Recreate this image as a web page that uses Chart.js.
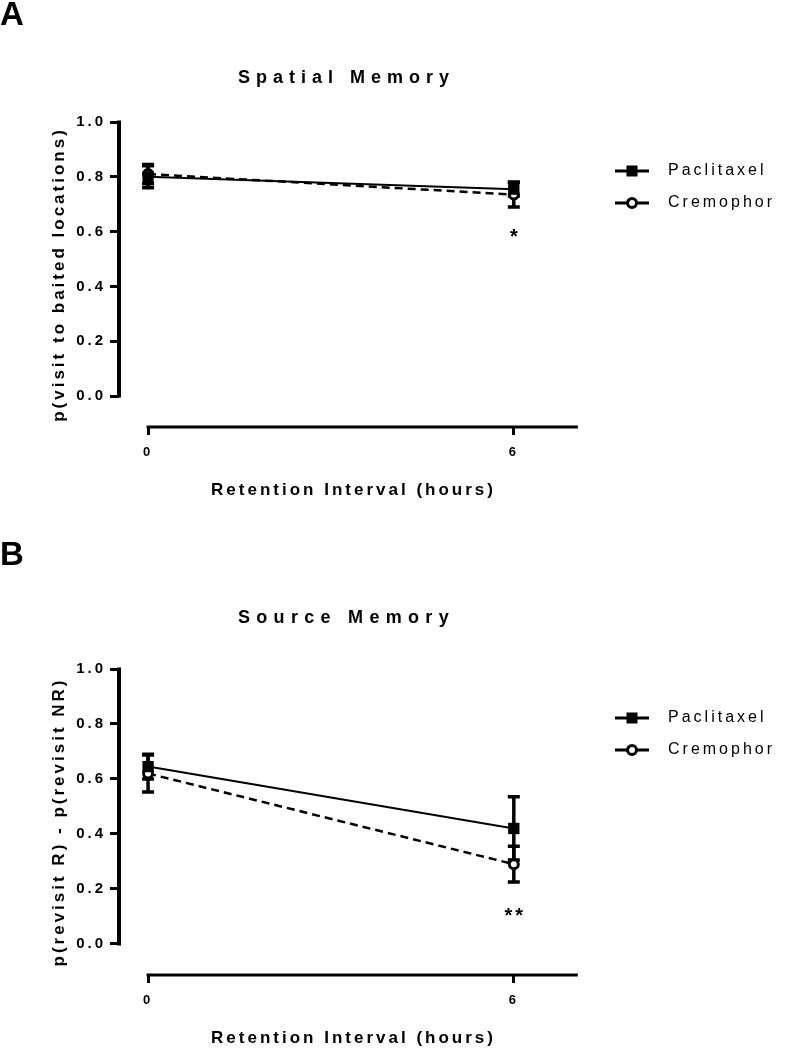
<!DOCTYPE html>
<html lang="en">
  <head>
    <meta charset="UTF-8" />
    <title>Spatial and Source Memory</title>
    <script src="https://cdn.jsdelivr.net/npm/chart.js"></script>
    <style>
      body {
        margin: 0;
        background: #fff;
        font-family: "Liberation Sans", Arial, sans-serif;
      }
      .page {
        position: relative;
        width: 788px;
        height: 1050px;
        overflow: hidden;
      }
      canvas {
        position: absolute;
        left: 0;
      }
      .panel-label {
        position: absolute;
        left: 0;
        font-size: 33px;
        font-weight: bold;
        line-height: 1;
        z-index: 2;
      }
      .panel-title {
        position: absolute;
        left: 238px;
        font-size: 18px;
        font-weight: bold;
        letter-spacing: 6px;
        line-height: 1;
        z-index: 2;
      }
    </style>
  </head>
  <body>
    <div class="page">
      <canvas id="spatialChart" width="788" height="503" style="top: 0"></canvas>
      <canvas id="sourceChart" width="788" height="510" style="top: 541px"></canvas>
      <div class="panel-label" style="top: -3px">A</div>
      <div class="panel-title" style="top: 68px">Spatial Memory</div>
      <div class="panel-label" style="top: 537px">B</div>
      <div class="panel-title" style="top: 608px; letter-spacing: 6.3px">Source Memory</div>
    </div>

    <script>
      // shared axes
      const hours = [0, 6];
      const xTicks = [0, 6];
      const yTicks = [0, 0.2, 0.4, 0.6, 0.8, 1.0];
      const seriesNames = ["Paclitaxel", "Cremophor"];

      // A: spatial memory (mean, sem)
      const spatialPaclitaxel = [0.8, 0.755];
      const spatialPaclitaxelSem = [0.04, 0.025];
      const spatialCremophor = [0.81, 0.735];
      const spatialCremophorSem = [0.035, 0.045];
      const spatialStars = ["", "*"];
      const spatialStarY = [null, 0.595];

      // B: source memory (mean, sem)
      const sourcePaclitaxel = [0.645, 0.42];
      const sourcePaclitaxelSem = [0.045, 0.115];
      const sourceCremophor = [0.62, 0.29];
      const sourceCremophorSem = [0.067, 0.065];
      const sourceStars = ["", "**"];
      const sourceStarY = [null, 0.115];

      Chart.defaults.font.family = "'Liberation Sans', Arial, sans-serif";
      Chart.defaults.color = "#000";

      // little "line + marker" pictures for the legend
      function legendIcon(open) {
        const c = document.createElement("canvas");
        c.width = 34;
        c.height = 16;
        const g = c.getContext("2d");
        g.strokeStyle = "#000";
        g.lineWidth = 3;
        g.beginPath();
        g.moveTo(0, 8);
        g.lineTo(34, 8);
        g.stroke();
        if (open) {
          g.fillStyle = "#fff";
          g.lineWidth = 3;
          g.beginPath();
          g.arc(17, 8, 4.5, 0, Math.PI * 2);
          g.fill();
          g.stroke();
        } else {
          g.fillStyle = "#000";
          g.fillRect(11.5, 2.5, 11, 11);
        }
        return c;
      }
      const legendIcons = [legendIcon(false), legendIcon(true)];

      const spacing = {
        id: "spacing",
        beforeLayout(chart) {
          chart.ctx.letterSpacing = "3px";
        },
        beforeDraw(chart) {
          chart.ctx.letterSpacing = "3px";
        },
      };

      // offset axis lines (prism style) + error bars
      const errorBars = {
        id: "errorBars",
        beforeDatasetsDraw(chart, args, opts) {
          const { ctx, chartArea } = chart;
          const x = chart.scales.x;
          const y = chart.scales.y;
          ctx.save();
          ctx.strokeStyle = "#000";

          ctx.lineWidth = 4;
          ctx.beginPath();
          ctx.moveTo(chartArea.left, y.getPixelForValue(yTicks[yTicks.length - 1]) - 1.5);
          ctx.lineTo(chartArea.left, y.getPixelForValue(yTicks[0]) + 1.5);
          ctx.stroke();
          ctx.lineWidth = 3;
          ctx.beginPath();
          ctx.moveTo(x.getPixelForValue(xTicks[0]) - 1.5, chartArea.bottom);
          ctx.lineTo(x.getPixelForValue(opts.xEnd), chartArea.bottom);
          ctx.stroke();

          chart.data.datasets.forEach((ds) => {
            ds.data.forEach((p, i) => {
              const px = x.getPixelForValue(p.x);
              const top = y.getPixelForValue(p.y + ds.sem[i]);
              const bot = y.getPixelForValue(p.y - ds.sem[i]);
              ctx.lineWidth = 3.5;
              ctx.beginPath();
              ctx.moveTo(px, top);
              ctx.lineTo(px, bot);
              ctx.moveTo(px - 6, top);
              ctx.lineTo(px + 6, top);
              ctx.moveTo(px - 6, bot);
              ctx.lineTo(px + 6, bot);
              ctx.stroke();
            });
          });
          ctx.restore();
        },
      };

      const stars = {
        id: "stars",
        afterDatasetsDraw(chart, args, opts) {
          const { ctx } = chart;
          ctx.save();
          ctx.fillStyle = "#000";
          ctx.font = "bold 20px 'Liberation Sans', Arial, sans-serif";
          ctx.textAlign = "center";
          ctx.textBaseline = "middle";
          opts.labels.forEach((t, i) => {
            if (!t) return;
            const px = chart.scales.x.getPixelForValue(hours[i]);
            const py = chart.scales.y.getPixelForValue(opts.yValues[i]);
            ctx.fillText(t, px + 1.5, py + 4.4);
          });
          ctx.restore();
        },
      };

      function drawPanel(id, p) {
        const ctx = document.getElementById(id).getContext("2d");
        return new Chart(ctx, {
          type: "line",
          data: {
            datasets: [
              {
                label: seriesNames[0],
                data: hours.map((h, i) => ({ x: h, y: p.pac[i] })),
                sem: p.pacSem,
                borderColor: "#000",
                backgroundColor: "#000",
                borderWidth: 2,
                pointStyle: "rect",
                pointRadius: 8,
                pointBorderWidth: 0,
                clip: false,
              },
              {
                label: seriesNames[1],
                data: hours.map((h, i) => ({ x: h, y: p.crem[i] })),
                sem: p.cremSem,
                borderColor: "#000",
                borderWidth: 2.5,
                borderDash: [8, 5],
                pointStyle: "circle",
                pointRadius: 4.5,
                pointBorderWidth: 3,
                pointBorderColor: "#000",
                pointBackgroundColor: "#fff",
                clip: false,
              },
            ],
          },
          options: {
            responsive: false,
            animation: false,
            layout: { padding: { top: p.top, right: 4, left: 0, bottom: 0 } },
            plugins: {
              tooltip: { enabled: false },
              legend: {
                position: "right",
                align: "start",
                fullSize: false,
                title: {
                  display: true,
                  text: " ",
                  font: { size: 25, lineHeight: 1 },
                  padding: 0,
                },
                labels: {
                  color: "#000",
                  font: { size: 16 },
                  padding: 16,
                  usePointStyle: true,
                  pointStyleWidth: 56,
                  generateLabels: (chart) =>
                    chart.data.datasets.map((ds, i) => ({
                      text: ds.label,
                      pointStyle: legendIcons[i],
                      datasetIndex: i,
                      lineWidth: 0,
                      fillStyle: "#000",
                      strokeStyle: "#000",
                      fontColor: "#000",
                    })),
                },
              },
              errorBars: { xEnd: 7.05 },
              stars: { labels: p.stars, yValues: p.starY },
            },
            scales: {
              x: {
                type: "linear",
                min: -0.477,
                max: 7.217,
                afterBuildTicks: (ax) => {
                  ax.ticks = xTicks.map((v) => ({ value: v }));
                },
                afterFit: (ax) => {
                  ax.height = 76;
                },
                border: { display: false },
                grid: {
                  drawOnChartArea: false,
                  color: "#000",
                  lineWidth: 3,
                  tickLength: 8,
                },
                ticks: {
                  color: "#000",
                  font: { size: 13, weight: "bold" },
                  padding: 10,
                  autoSkip: false,
                  maxRotation: 0,
                },
                title: {
                  display: true,
                  text: "Retention Interval (hours)",
                  color: "#000",
                  font: { size: 17, weight: "bold" },
                  padding: { top: 0, bottom: 2 },
                },
              },
              y: {
                min: -0.113,
                max: 1.0,
                afterBuildTicks: (ax) => {
                  ax.ticks = yTicks.map((v) => ({ value: v }));
                },
                afterFit: (ax) => {
                  ax.width = 119;
                },
                border: { display: false },
                grid: {
                  drawOnChartArea: false,
                  color: "#000",
                  lineWidth: 3,
                  tickLength: 9,
                },
                ticks: {
                  color: "#000",
                  font: { size: 15, weight: "bold" },
                  padding: 4,
                  callback: (v) => v.toFixed(1),
                },
                title: {
                  display: true,
                  text: p.yTitle,
                  color: "#000",
                  font: { size: 17, weight: "bold" },
                  padding: { top: 49, bottom: 0 },
                },
              },
            },
          },
          plugins: [spacing, errorBars, stars],
        });
      }

      drawPanel("spatialChart", {
        top: 122,
        pac: spatialPaclitaxel,
        pacSem: spatialPaclitaxelSem,
        crem: spatialCremophor,
        cremSem: spatialCremophorSem,
        stars: spatialStars,
        starY: spatialStarY,
        yTitle: "p(visit to baited locations)",
      });

      drawPanel("sourceChart", {
        top: 128,
        pac: sourcePaclitaxel,
        pacSem: sourcePaclitaxelSem,
        crem: sourceCremophor,
        cremSem: sourceCremophorSem,
        stars: sourceStars,
        starY: sourceStarY,
        yTitle: "p(revisit R) - p(revisit NR)",
      });
    </script>
  </body>
</html>
